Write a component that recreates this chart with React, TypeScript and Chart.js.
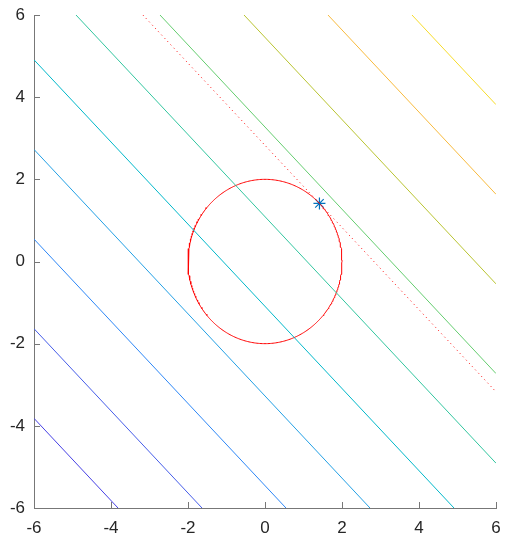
import React, { useEffect, useRef } from "react";
import { Chart, registerables } from "chart.js";

Chart.register(...registerables);

// Axis ticks
const xTicks = [-6, -4, -2, 0, 2, 4, 6];
const yTicks = [-6, -4, -2, 0, 2, 4, 6];

// Contour levels of f(x,y) = x + y
const levels = [-9.818, -7.636, -5.455, -3.273, -1.091, 1.091, 3.273, 5.455, 7.636, 9.818];
const levelColors = [
  "#4741e5",
  "#465de9",
  "#2d87f7",
  "#23a0e5",
  "#01b8ca",
  "#32c69f",
  "#64cd6f",
  "#b9c431",
  "#f8ba3d",
  "#f7dc2a",
];

// Constraint circle x^2 + y^2 = r^2
const circleRadius = 2;
const circleSteps = 360;

// Optimum (tangent point) and its level line
const optimumX = [1.414];
const optimumY = [1.414];
const optimumLevel = 2.828;

const lo = -6;
const hi = 6;

function levelSegment(c: number) {
  const pts: { x: number; y: number }[] = [];
  const cand = [
    { x: lo, y: c - lo },
    { x: hi, y: c - hi },
    { x: c - lo, y: lo },
    { x: c - hi, y: hi },
  ];
  for (const p of cand) {
    if (p.x >= lo - 1e-9 && p.x <= hi + 1e-9 && p.y >= lo - 1e-9 && p.y <= hi + 1e-9) {
      if (!pts.some((q) => Math.abs(q.x - p.x) < 1e-9 && Math.abs(q.y - p.y) < 1e-9)) pts.push(p);
    }
  }
  pts.sort((a, b) => a.x - b.x);
  return pts;
}

const inwardTicks = {
  id: "inwardTicks",
  afterDatasetsDraw(chart: any) {
    const ctx = chart.ctx;
    const xs = chart.scales.x;
    const ys = chart.scales.y;
    const area = chart.chartArea;
    ctx.save();
    ctx.strokeStyle = "#777777";
    ctx.lineWidth = 1;
    ctx.beginPath();
    for (const v of xTicks) {
      const px = Math.round(xs.getPixelForValue(v)) + 0.5;
      ctx.moveTo(px, area.bottom);
      ctx.lineTo(px, area.bottom - 6);
    }
    for (const v of yTicks) {
      const py = Math.round(ys.getPixelForValue(v)) + 0.5;
      ctx.moveTo(area.left, py);
      ctx.lineTo(area.left + 6, py);
    }
    ctx.stroke();
    ctx.restore();
  },
};

export default function App() {
  const ref = useRef<HTMLCanvasElement | null>(null);

  useEffect(() => {
    if (!ref.current) return;
    const datasets: any[] = [];
    levels.forEach((c, i) => {
      datasets.push({
        data: levelSegment(c),
        showLine: true,
        borderColor: levelColors[i],
        borderWidth: 1,
        pointRadius: 0,
        fill: false,
      });
    });
    const circle: { x: number; y: number }[] = [];
    for (let k = 0; k <= circleSteps; k++) {
      const t = Math.PI / 2 + (2 * Math.PI * k) / circleSteps;
      circle.push({ x: circleRadius * Math.cos(t), y: circleRadius * Math.sin(t) });
    }
    datasets.push({
      data: circle,
      showLine: true,
      borderColor: "#ff0000",
      borderWidth: 1,
      pointRadius: 0,
      fill: false,
    });
    datasets.push({
      data: levelSegment(optimumLevel),
      showLine: true,
      borderColor: "#ff0000",
      borderWidth: 1,
      borderDash: [1, 3.5],
      pointRadius: 0,
      fill: false,
    });
    datasets.push({
      data: optimumX.map((x, i) => ({ x, y: optimumY[i] })),
      showLine: false,
      pointStyle: "star",
      pointRadius: 6,
      borderColor: "#0072bd",
      backgroundColor: "#0072bd",
      pointBorderWidth: 1.2,
    });

    const tickFont = { family: "'Liberation Sans', Arial, Helvetica, sans-serif", size: 17 };

    const chart = new Chart(ref.current, {
      type: "scatter",
      data: { datasets },
      plugins: [inwardTicks],
      options: {
        animation: false,
        responsive: false,
        maintainAspectRatio: false,
        layout: { padding: { top: 15, right: 12, left: 0, bottom: 0 } },
        plugins: { legend: { display: false }, tooltip: { enabled: false } },
        scales: {
          x: {
            type: "linear",
            min: lo,
            max: hi,
            afterBuildTicks: (s: any) => {
              s.ticks = xTicks.map((v) => ({ value: v }));
            },
            afterFit: (s: any) => {
              s.height = 38;
              s.paddingLeft = 0;
              s.paddingRight = 0;
            },
            grid: { display: false, drawTicks: false },
            border: { display: true, color: "#777777", width: 1 },
            ticks: {
              font: tickFont,
              color: "#262626",
              padding: 10,
              maxRotation: 0,
              autoSkip: false,
            },
          },
          y: {
            type: "linear",
            min: lo,
            max: hi,
            afterBuildTicks: (s: any) => {
              s.ticks = yTicks.map((v) => ({ value: v }));
            },
            afterFit: (s: any) => {
              s.width = 34;
              s.paddingTop = 0;
              s.paddingBottom = 0;
            },
            grid: { display: false, drawTicks: false },
            border: { display: true, color: "#777777", width: 1 },
            ticks: {
              font: tickFont,
              color: "#262626",
              padding: 9,
              autoSkip: false,
            },
          },
        },
      },
    } as any);
    return () => chart.destroy();
  }, []);

  return (
    <div style={{ position: "absolute", left: 0, top: 0, width: 508, height: 546, background: "#ffffff" }}>
      <canvas ref={ref} width={508} height={546} style={{ width: 508, height: 546, display: "block" }} />
    </div>
  );
}
